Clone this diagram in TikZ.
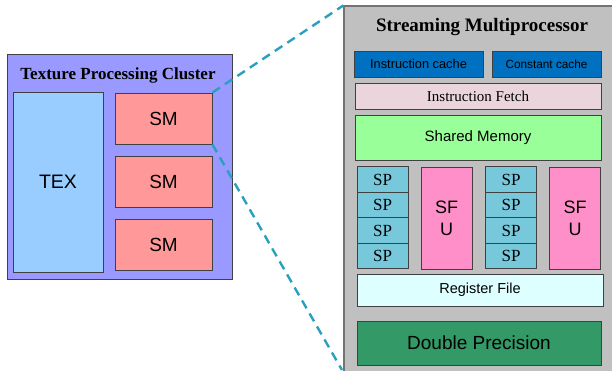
\documentclass[tikz,border=0pt]{standalone}
\usepackage{fontspec}
\setmainfont{Liberation Serif}
\setsansfont{Liberation Sans}
\usetikzlibrary{positioning}
\definecolor{tpcblue}{HTML}{9999FF}
\definecolor{texblue}{HTML}{99CCFF}
\definecolor{smred}{HTML}{FF9999}
\definecolor{smgrey}{HTML}{C0C0C0}
\definecolor{cacheblue}{HTML}{0070C0}
\definecolor{fetchpink}{HTML}{EAD5DC}
\definecolor{shmgreen}{HTML}{99FF99}
\definecolor{spcyan}{HTML}{78C8DC}
\definecolor{sfupink}{HTML}{FF8FC8}
\definecolor{regcyan}{HTML}{DDFFFF}
\definecolor{dpgreen}{HTML}{339966}
\definecolor{zoomline}{HTML}{2AA0C0}
\tikzset{box/.style = {draw=black!75, line width=0.8pt, inner sep=0pt},
         zoom/.style = {draw=zoomline, line width=2.4pt, dash pattern=on 9pt off 6pt}}

\begin{document}
\begin{tikzpicture}[x=1pt, y=-1pt]
      \useasboundingbox (0, 0) rectangle (612, 370);

      % texture processing cluster
      \node [box, fill=tpcblue, minimum width=225pt, minimum height=225pt] (tpc) at (119.5, 166.5) {};
      \node [font=\fontsize{17}{19}\selectfont\bfseries] (tpctitle) at (118, 75) {Texture Processing Cluster};
      \node [box, fill=texblue, minimum width=90pt, minimum height=180pt,
             font=\sffamily\fontsize{19.5}{22}\selectfont] (tex) at (58, 182) {TEX};
      \foreach \y/\n in {118.5/sma, 182/smb, 245/smc} {
        \node [box, fill=smred, minimum width=97pt, minimum height=51pt,
               font=\sffamily\fontsize{19}{22}\selectfont] (\n) at (163.5, \y) {SM};
      }

      % streaming multiprocessor
      \node [box, draw=black!55, line width=1.2pt, fill=smgrey, minimum width=270pt, minimum height=368pt] (smp) at (479, 190) {};
      \node [font=\fontsize{19}{22}\selectfont\bfseries] (smptitle) at (482, 27) {Streaming Multiprocessor};
      \node [box, fill=cacheblue, minimum width=129pt, minimum height=26pt,
             font=\sffamily\fontsize{12.8}{15}\selectfont] (icache) at (418.5, 64) {Instruction cache};
      \node [box, fill=cacheblue, minimum width=109pt, minimum height=26pt,
             font=\sffamily\fontsize{11.8}{14}\selectfont] (ccache) at (546.5, 64) {Constant cache};
      \node [box, fill=fetchpink, minimum width=246pt, minimum height=26pt,
             font=\fontsize{15}{17}\selectfont] (fetch) at (478, 96) {Instruction Fetch};
      \node [box, fill=shmgreen, minimum width=246pt, minimum height=45pt,
             font=\sffamily\fontsize{15}{18}\selectfont] (shmem) at (478, 137.5) {Shared Memory};
      \foreach \x/\c in {382.5/a, 511/b} {
        \foreach \y/\r in {179.5/1, 205/2, 230.5/3, 256/4} {
          \node [box, fill=spcyan, minimum width=51pt, minimum height=25.5pt,
                 font=\fontsize{17}{19}\selectfont] (sp\c\r) at (\x, \y) {SP};
        }
      }
      \foreach \x/\c in {446.5/a, 575/b} {
        \node [box, fill=sfupink, minimum width=51pt, minimum height=102pt, align=center,
               font=\sffamily\fontsize{18}{22}\selectfont] (sfu\c) at (\x, 218) {SF\\U};
      }
      \node [box, fill=regcyan, minimum width=246pt, minimum height=32pt,
             font=\sffamily\fontsize{14.5}{17}\selectfont] (regfile) at (480, 290) {Register File};
      \node [box, fill=dpgreen, minimum width=244pt, minimum height=44pt,
             font=\sffamily\fontsize{19}{22}\selectfont] (dprec) at (479, 343) {Double Precision};

      % zoom lines
      \coordinate (zoomend) at (342, 370);
      \draw [zoom] (sma.north east) -- (smp.north west);
      \draw [zoom] (sma.south east) -- (zoomend);
    \end{tikzpicture}
\end{document}
